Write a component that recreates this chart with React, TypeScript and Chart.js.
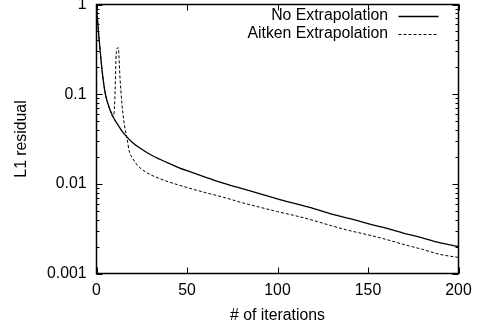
import React, { useEffect, useRef } from "react";
import { Chart, registerables } from "chart.js";

Chart.register(...registerables);

const seriesLabels = ["No Extrapolation", "Aitken Extrapolation"];

const noExtrapIter = [0, 1, 2, 3, 4, 5, 6, 7, 8, 10, 12, 14, 17, 20, 25, 30, 35, 40, 45, 50, 60, 70, 80, 90, 100, 110, 120, 130, 140, 150, 160, 170, 180, 190, 200];
const noExtrapResidual = [0.95, 0.52, 0.31, 0.19, 0.13, 0.098, 0.082, 0.071, 0.063, 0.052, 0.045, 0.039, 0.033, 0.0288, 0.0243, 0.0211, 0.0188, 0.0169, 0.0153, 0.014, 0.0119, 0.0102, 0.0089, 0.0078, 0.0068, 0.006, 0.0053, 0.0046, 0.0041, 0.0036, 0.0032, 0.0028, 0.0025, 0.0022, 0.002];

const aitkenIter = [0, 1, 2, 3, 4, 5, 6, 7, 8, 9, 10, 11, 12, 13, 14, 15, 16, 17, 18, 20, 23, 27, 30, 35, 40, 50, 60, 70, 80, 90, 100, 110, 120, 130, 140, 150, 160, 170, 180, 190, 200];
const aitkenResidual = [0.95, 0.52, 0.31, 0.19, 0.13, 0.098, 0.082, 0.071, 0.063, 0.056, 0.075, 0.3, 0.33, 0.15, 0.08, 0.052, 0.039, 0.031, 0.0235, 0.0192, 0.0158, 0.0136, 0.0126, 0.0114, 0.0105, 0.0091, 0.008, 0.0071, 0.0062, 0.0055, 0.0049, 0.0044, 0.0039, 0.0034, 0.003, 0.0027, 0.0024, 0.0021, 0.00186, 0.00163, 0.00151];

const xTickValues = [0, 50, 100, 150, 200];
const yTickLabels = ["0.001", "0.01", "0.1", "1"];
const xAxisTitle = "# of iterations";
const yAxisTitle = "L1 residual";

const FONT = "'Liberation Sans', Arial, Helvetica, sans-serif";
const FONT_SIZE = 15.8;

const framePlugin = {
  id: "gnuFrame",
  afterDatasetsDraw(chart: any) {
    const { ctx, chartArea: a, scales } = chart;
    const xs = scales.x;
    const ys = scales.y;
    ctx.save();
    ctx.strokeStyle = "#000";
    ctx.lineWidth = 1;
    ctx.setLineDash([]);
    ctx.beginPath();
    const yMin = Number(yTickLabels[0]);
    const yMax = Number(yTickLabels[yTickLabels.length - 1]);
    for (let d = yMin; d <= yMax * 1.0001; d *= 10) {
      for (let m = 1; m <= 9; m++) {
        const v = d * m;
        if (v > yMax * 1.0001) break;
        const py = Math.round(ys.getPixelForValue(v)) + 0.5;
        const len = m === 1 ? 6 : 3;
        ctx.moveTo(a.left, py);
        ctx.lineTo(a.left + len, py);
        ctx.moveTo(a.right, py);
        ctx.lineTo(a.right - len, py);
      }
    }
    xs.ticks.forEach((t: any) => {
      const px = Math.round(xs.getPixelForValue(t.value)) + 0.5;
      ctx.moveTo(px, a.bottom);
      ctx.lineTo(px, a.bottom - 6);
      ctx.moveTo(px, a.top);
      ctx.lineTo(px, a.top + 6);
    });
    ctx.stroke();
    ctx.lineWidth = 1.5;
    ctx.strokeRect(a.left, a.top, a.right - a.left, a.bottom - a.top);

    ctx.font = `${FONT_SIZE}px ${FONT}`;
    ctx.fillStyle = "#000";
    ctx.textAlign = "right";
    ctx.textBaseline = "middle";
    const textRight = a.right - 70.5;
    const sampleStart = a.right - 60;
    const sampleEnd = a.right - 20;
    const rowY = [a.top + 11, a.top + 29];
    chart.data.datasets.forEach((ds: any, i: number) => {
      const y = rowY[i];
      ctx.fillText(ds.label, textRight, y);
      ctx.beginPath();
      ctx.lineWidth = ds.borderWidth;
      ctx.setLineDash(ds.borderDash || []);
      ctx.moveTo(sampleStart, Math.round(y) + 0.5);
      ctx.lineTo(sampleEnd, Math.round(y) + 0.5);
      ctx.stroke();
    });
    ctx.restore();
  },
};

export default function App() {
  const canvasRef = useRef<HTMLCanvasElement | null>(null);

  useEffect(() => {
    document.body.style.margin = "0";
    const canvas = canvasRef.current;
    if (!canvas) return;
    const chart = new Chart(canvas, {
      type: "line",
      data: {
        datasets: [
          {
            label: seriesLabels[0],
            data: noExtrapIter.map((x, i) => ({ x, y: noExtrapResidual[i] })),
            borderColor: "#000",
            borderWidth: 1.3,
            pointRadius: 0,
            fill: false,
            cubicInterpolationMode: "monotone",
          },
          {
            label: seriesLabels[1],
            data: aitkenIter.map((x, i) => ({ x, y: aitkenResidual[i] })),
            borderColor: "#000",
            borderWidth: 1,
            borderDash: [3, 2],
            pointRadius: 0,
            fill: false,
            cubicInterpolationMode: "monotone",
          },
        ],
      },
      options: {
        responsive: false,
        animation: false,
        devicePixelRatio: 1,
        layout: { padding: { top: 4.5, right: 20.5, left: 0, bottom: 0 } },
        plugins: {
          legend: { display: false },
          tooltip: { enabled: false },
        },
        scales: {
          x: {
            type: "linear",
            min: xTickValues[0],
            max: xTickValues[xTickValues.length - 1],
            afterBuildTicks: (scale: any) => {
              scale.ticks = xTickValues.map((v) => ({ value: v }));
            },
            afterFit: (scale: any) => {
              scale.height = 55.5;
              scale.paddingLeft = 0;
              scale.paddingRight = 0;
            },
            grid: { display: false, drawTicks: false },
            border: { display: false },
            ticks: {
              padding: 8,
              color: "#000",
              font: { family: FONT, size: FONT_SIZE },
              maxRotation: 0,
              autoSkip: false,
              callback: (v: any) => String(v),
            },
            title: {
              display: true,
              text: xAxisTitle,
              color: "#000",
              font: { family: FONT, size: FONT_SIZE },
              padding: { top: 0, bottom: 4 },
            },
          },
          y: {
            type: "logarithmic",
            min: Number(yTickLabels[0]),
            max: Number(yTickLabels[yTickLabels.length - 1]),
            afterBuildTicks: (scale: any) => {
              scale.ticks = yTickLabels.map((l) => ({ value: Number(l), major: true }));
            },
            afterFit: (scale: any) => {
              scale.width = 96.5;
              scale.paddingTop = 0;
              scale.paddingBottom = 0;
            },
            grid: { display: false, drawTicks: false },
            border: { display: false },
            ticks: {
              padding: 10,
              color: "#000",
              font: { family: FONT, size: FONT_SIZE },
              autoSkip: false,
              callback: (v: any) => {
                const found = yTickLabels.find((l) => Math.abs(Number(l) / Number(v) - 1) < 1e-6);
                return found ?? "";
              },
            },
            title: {
              display: true,
              text: yAxisTitle,
              color: "#000",
              font: { family: FONT, size: FONT_SIZE },
              padding: { top: 12, bottom: 0 },
            },
          },
        },
      },
      plugins: [framePlugin],
    });
    return () => chart.destroy();
  }, []);

  return (
    <canvas
      ref={canvasRef}
      width={479}
      height={329}
      style={{ display: "block", width: "479px", height: "329px" }}
    />
  );
}
